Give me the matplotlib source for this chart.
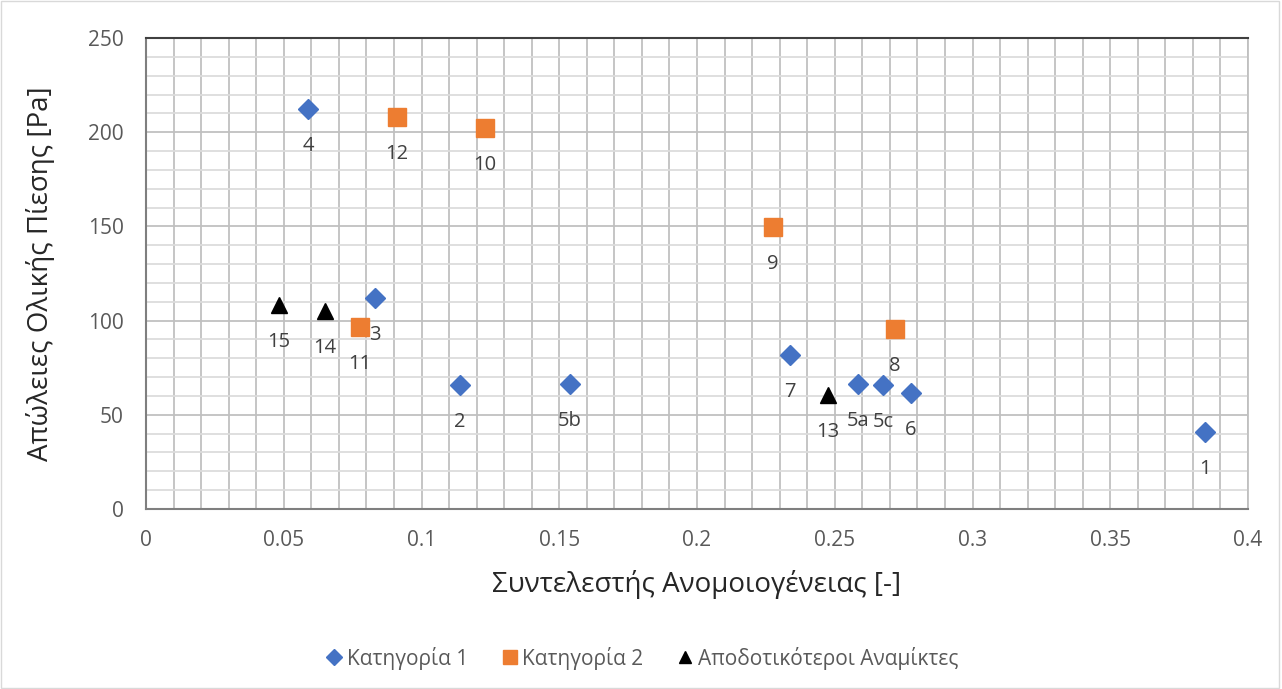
import matplotlib
matplotlib.use("Agg")
import matplotlib.pyplot as plt
from matplotlib.patches import Rectangle
from matplotlib.ticker import MultipleLocator

plt.rcParams['font.family'] = ['Open Sans', 'Noto Sans', 'DejaVu Sans']

# Category 1 mixers
cat1_x = [0.3844, 0.1140, 0.0831, 0.0588, 0.2585, 0.1539, 0.2675, 0.2777, 0.2338]
cat1_y = [40.9, 65.8, 112.0, 212.3, 66.3, 66.3, 65.8, 61.6, 81.7]
cat1_labels = ["1", "2", "3", "4", "5a", "5b", "5c", "6", "7"]

# Category 2 mixers
cat2_x = [0.2719, 0.2276, 0.1230, 0.0777, 0.0911]
cat2_y = [95.5, 149.7, 202.2, 96.6, 208.1]
cat2_labels = ["8", "9", "10", "11", "12"]

# Most efficient mixers
best_x = [0.2476, 0.0650, 0.0483]
best_y = [60.5, 105.0, 108.3]
best_labels = ["13", "14", "15"]

series_names = ["Κατηγορία 1", "Κατηγορία 2", "Αποδοτικότεροι Αναμίκτες"]
x_title = "Συντελεστής Ανομοιογένειας [-]"
y_title = "Απώλειες Ολικής Πίεσης [Pa]"

fig = plt.figure(figsize=(12.82, 6.89), dpi=100)
ax = fig.add_axes([146/1282, 1 - 509/689, 1102/1282, 471/689])

ax.set_xlim(0, 0.4)
ax.set_ylim(0, 250)
ax.xaxis.set_major_locator(MultipleLocator(0.05))
ax.yaxis.set_major_locator(MultipleLocator(50))
ax.xaxis.set_minor_locator(MultipleLocator(0.01))
ax.yaxis.set_minor_locator(MultipleLocator(10))

ax.grid(which='major', axis='both', color='#c0c0c0', linewidth=1.3, zorder=0)
ax.grid(which='minor', axis='x', color='#c0c0c0', linewidth=1.3, zorder=0)
ax.grid(which='minor', axis='y', color='#dcdcdc', linewidth=1.3, zorder=0)
ax.set_axisbelow(True)

for side in ['left', 'bottom']:
    ax.spines[side].set_color('#7f7f7f')
    ax.spines[side].set_linewidth(1.5)
ax.spines['top'].set_color('#404040')
ax.spines['top'].set_linewidth(1.5)
ax.spines['right'].set_color('#c0c0c0')
ax.spines['right'].set_linewidth(1.3)

ax.tick_params(which='both', length=0, labelsize=15, labelcolor='#595959')
ax.tick_params(axis='x', pad=15)
ax.tick_params(axis='y', pad=16)

def fmt(v, pos):
    s = f"{v:.2f}".rstrip('0').rstrip('.')
    return s
ax.xaxis.set_major_formatter(plt.FuncFormatter(fmt))

h1, = ax.plot(cat1_x, cat1_y, linestyle='none', marker='D', markersize=10.5,
              color='#4472c4', zorder=3, label=series_names[0])
h2, = ax.plot(cat2_x, cat2_y, linestyle='none', marker='s', markersize=13,
              color='#ed7d31', zorder=3, label=series_names[1])
h3, = ax.plot(best_x, best_y, linestyle='none', marker='^', markersize=12,
              color='black', zorder=3, label=series_names[2])

for xs, ys, labs in [(cat1_x, cat1_y, cat1_labels), (cat2_x, cat2_y, cat2_labels),
                     (best_x, best_y, best_labels)]:
    for x, y, t in zip(xs, ys, labs):
        ax.annotate(t, (x, y), xytext=(0, -26.5), textcoords='offset points',
                    ha='center', va='center', fontsize=14.5, color='#404040',
                    zorder=4)

ax.set_xlabel(x_title, fontsize=20, color='#262626', labelpad=14)
ax.set_ylabel(y_title, fontsize=20, color='#262626', labelpad=24)

leg = fig.legend(handles=[h1, h2, h3], loc='center', bbox_to_anchor=(0.5, 1 - 658/689),
                 ncol=3, frameon=False, fontsize=15, handletextpad=0.1,
                 columnspacing=1.5, handlelength=1.0, markerscale=0.75)
for t in leg.get_texts():
    t.set_color('#595959')

fig.patches.append(Rectangle((0.001, 0.001), 0.997, 0.997, transform=fig.transFigure,
                             fill=False, edgecolor='#d9d9d9', linewidth=1.0))

fig.savefig("out.png", dpi=100)
